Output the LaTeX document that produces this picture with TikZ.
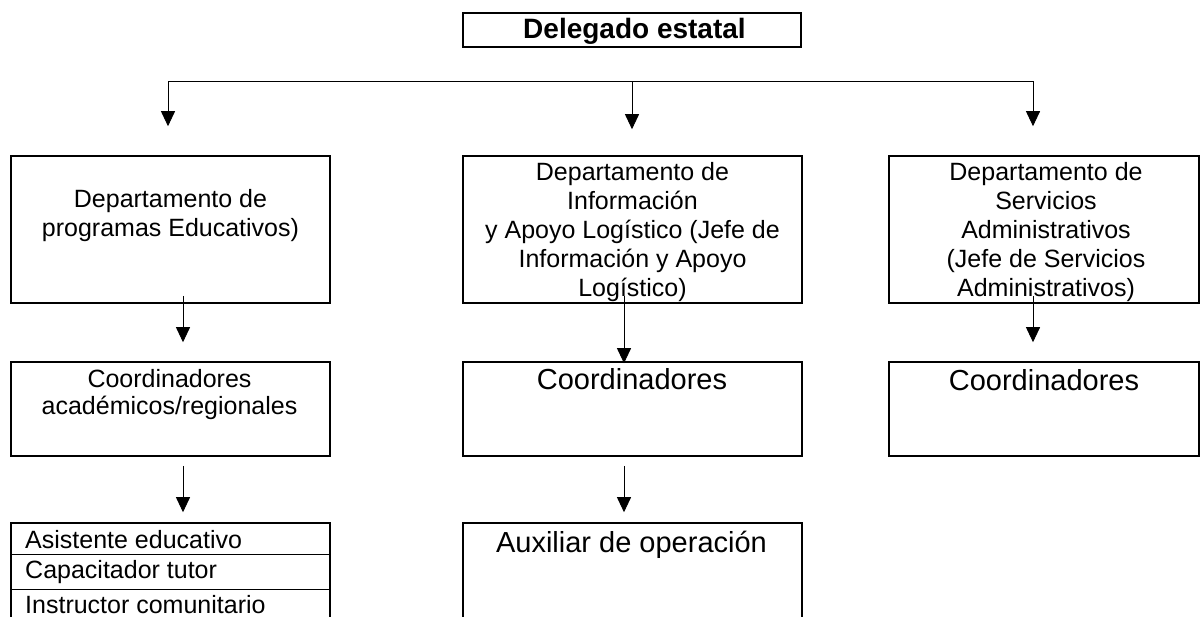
\documentclass[tikz,border=0pt]{standalone}
\usepackage{fontspec}
\setmainfont{Liberation Sans}
\usetikzlibrary{arrows.meta}

\tikzset{
  caja/.style={draw, line width=1.6pt, inner sep=0pt},
  texto/.style={inner sep=0pt, align=center, font=\fontsize{25}{29}\selectfont},
  grande/.style={inner sep=0pt, font=\fontsize{29}{33}\selectfont},
  flecha/.style={->, line width=0.9pt}
}

\begin{document}
\begin{tikzpicture}
		[
		x=1pt, y=-1pt, >={Triangle[width=14pt,length=15pt]}
		%Koordinaten in Pixeln, y nach unten
		]
		\useasboundingbox (0,0) rectangle (1201,616);
		
		%Delegado
		\node[caja, line width=1.4pt, minimum width=338pt, minimum height=34pt] (del) at (632,30) {};
		\node[inner sep=0pt, anchor=base, font=\fontsize{28}{32}\selectfont\bfseries] (delt) at (634.5,38) {Delegado estatal};
		
		%Departamentos
		\node[caja, minimum width=319pt, minimum height=147pt] (dep1) at (170.5,229.5) {};
		\node[caja, minimum width=339pt, minimum height=147pt] (dep2) at (632.5,229.5) {};
		\node[caja, minimum width=310pt, minimum height=147pt] (dep3) at (1044,229.5) {};
		\node[texto, anchor=north] (dep1t) at (170.5,189) {Departamento de\\programas Educativos)};
		\node[texto, anchor=north] (dep2t) at (632.5,162) {Departamento de\\Información\\y Apoyo Logístico (Jefe de\\Información y Apoyo\\Logístico)};
		\node[texto, anchor=north] (dep3t) at (1046,162) {Departamento de\\Servicios\\Administrativos\\(Jefe de Servicios\\Administrativos)};
		
		%Coordinadores
		\node[caja, minimum width=319pt, minimum height=94pt] (coo1) at (170.5,409) {};
		\node[caja, minimum width=339pt, minimum height=94pt] (coo2) at (632.5,409) {};
		\node[caja, minimum width=310pt, minimum height=94pt] (coo3) at (1044,409) {};
		\node[texto, anchor=north, font=\fontsize{25}{27}\selectfont] (coo1t) at (169.5,369) {Coordinadores\\académicos/regionales};
		\node[grande, anchor=base] (coo2t) at (632,389) {Coordinadores};
		\node[grande, anchor=base] (coo3t) at (1044,390) {Coordinadores};
		
		%Puestos
		\node[caja, minimum width=319pt, minimum height=107pt] (pue) at (170.5,576.5) {};
		\node[caja, minimum width=339pt, minimum height=107pt] (aux) at (632.5,576.5) {};
		\draw[line width=1.3pt] ([yshift=-32pt]pue.north west) -- ([yshift=-32pt]pue.north east);
		\draw[line width=1.3pt] ([yshift=-67pt]pue.north west) -- ([yshift=-67pt]pue.north east);
		\node[texto, anchor=base west] (asis) at (25,548) {Asistente educativo};
		\node[texto, anchor=base west] (capa) at (25,578) {Capacitador tutor};
		\node[texto, anchor=base west] (inst) at (25,613) {Instructor comunitario};
		\node[grande, anchor=base] (auxt) at (631.5,552) {Auxiliar de operación};
		
		%Pfeile
		\coordinate (bus) at ([yshift=-34pt]del.south);
		\draw[flecha, <->] ([xshift=-2.5pt,yshift=29pt]dep1.north) |- (bus) -| ([xshift=-11pt,yshift=29pt]dep3.north);
		\draw[flecha] (bus) -- ([xshift=-0.5pt,yshift=26pt]dep2.north);
		\draw[flecha] ([xshift=12.5pt,yshift=8pt]dep1.south) -- ([xshift=12.5pt,yshift=19pt]coo1.north);
		\draw[flecha] ([xshift=-8.5pt,yshift=8pt]dep2.south) -- ([xshift=-8.5pt,yshift=-2pt]coo2.north);
		\draw[flecha] ([xshift=-11pt,yshift=8pt]dep3.south) -- ([xshift=-11pt,yshift=19pt]coo3.north);
		\draw[flecha] ([xshift=12.5pt,yshift=-9pt]coo1.south) -- ([xshift=12.5pt,yshift=10pt]pue.north);
		\draw[flecha] ([xshift=-8.5pt,yshift=-9pt]coo2.south) -- ([xshift=-8.5pt,yshift=10pt]aux.north);
	\end{tikzpicture}
\end{document}
